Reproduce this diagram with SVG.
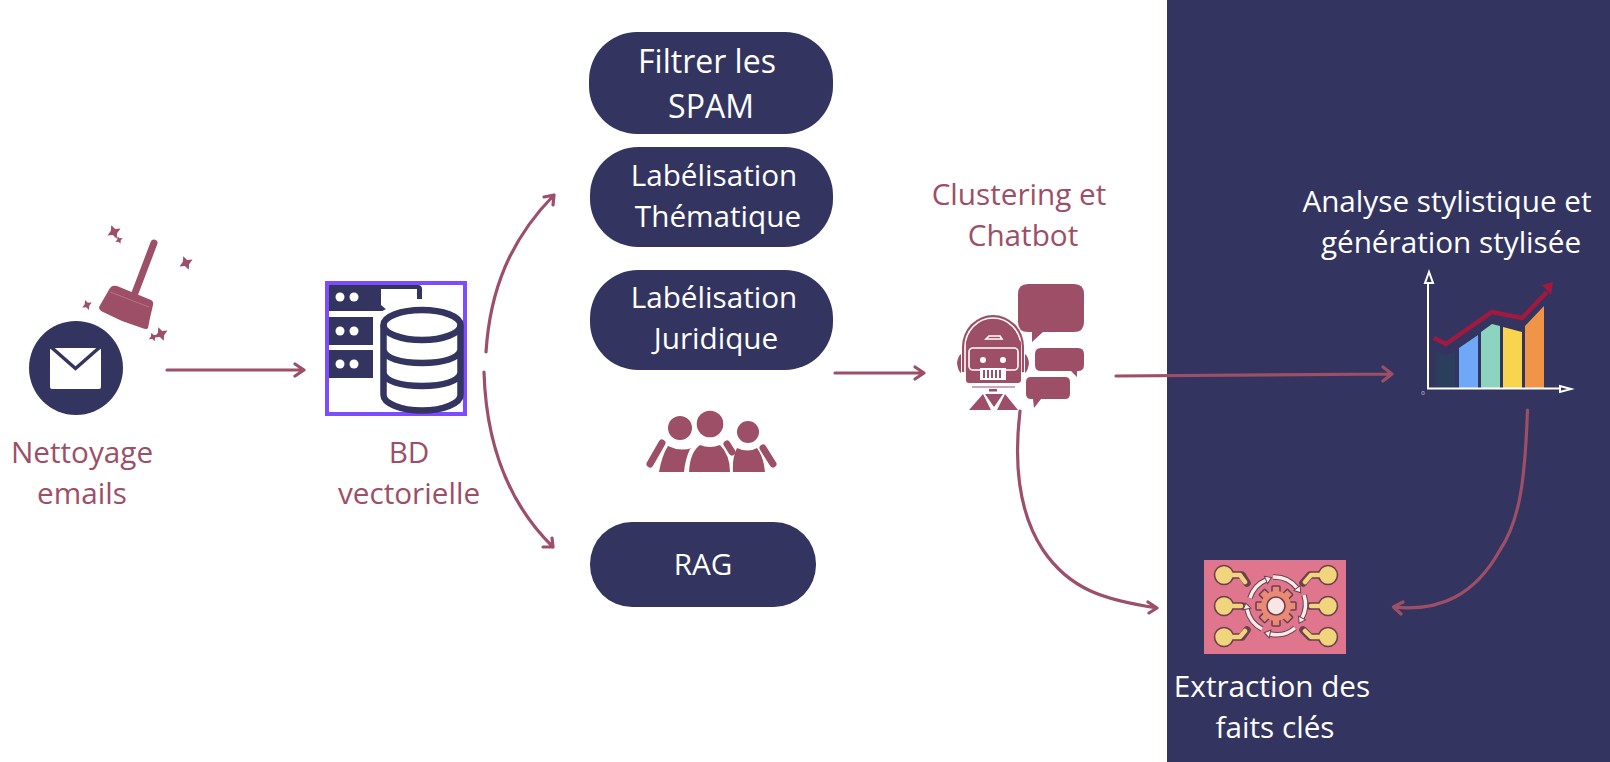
<svg xmlns="http://www.w3.org/2000/svg" width="1610" height="762" viewBox="0 0 1610 762">
<style>
text{font-family:"Open Sans","Liberation Sans",sans-serif;font-size:29.700px;font-weight:400;text-anchor:middle}
.big{font-size:32px}
.w{fill:#fff}.r{fill:#9c4f66}.n{fill:#333560}
.c{fill:none;stroke:#9c4f66;stroke-width:3.200;stroke-linecap:round;stroke-linejoin:round}
.db{fill:none;stroke:#333560;stroke-width:6.500}
.rl{fill:none;stroke:#fff;stroke-width:1.600}
.o{stroke:#6e3f4e;stroke-width:1.600}
.arcO{fill:none;stroke:#6e3f4e;stroke-width:5.500}
.arcW{fill:none;stroke:#f7ecea;stroke-width:3.500}
</style>
<defs>
<path id="spark" d="M-.9-1L0-.6L.9-1L.6 0L.9 1L0 .6L-.9 1L-.6 0Z"/>
<marker id="ah" markerUnits="userSpaceOnUse" markerWidth="12" markerHeight="12" refX="3" refY="6" orient="auto"><path d="M3 2L9 6L3 10Z" fill="#f7ecea" stroke="#6e3f4e" stroke-width="1"/></marker>
<rect id="tooth" x="-4" y="-20" width="8" height="8" fill="#e98a75" stroke="#6e3f4e" stroke-width="1.600" rx="1"/>
<filter id="soft" x="-5%" y="-5%" width="110%" height="110%"><feGaussianBlur stdDeviation=".45"/></filter>
</defs>
<rect id="panel" x="1167" y="0" width="443" height="762" class="n"/>

<g id="connectors">
<path class="c" d="M167 370H304M295 364L304 370L295 376"/>
<path class="c" d="M486 352C490 290 510 240 554 195M544 197L554 195L553 205"/>
<path class="c" d="M484 372C486 440 505 500 553 547M552 538L553 547L543 547"/>
<path class="c" d="M835 373H924M915 367L924 373L915 379"/>
<path class="c" d="M1116 376L1392 374M1383 367L1392 374L1383 381"/>
<path class="c" d="M1020 411C1013 470 1020 515 1043 550C1070 590 1105 600 1157 608M1148 602L1157 608L1149 613"/>
<path class="c" d="M1527.500 410C1525 480 1520 520 1500 550C1475 595 1440 612 1393.500 607M1403 602L1393.500 607L1401 614"/>
</g>

<g id="nettoyage">
<circle cx="76" cy="368" r="47" class="n"/>
<rect x="50" y="348" width="51" height="41" rx="2" class="w"/>
<path d="M51 347L75.500 368.500L100 347" fill="none" stroke="#333560" stroke-width="3.500"/>
<path d="M154 243L135 293" fill="none" stroke="#9c4f66" stroke-width="7" stroke-linecap="round"/>
<path class="r" d="M110 288Q112 285 117 286L151 300Q154 302 153 305L150 318L148 328Q147 330 142 328L122 321L103 312Q99 310 99 307Z"/>
<path d="M110 292L149 307" stroke="#c78a9b" stroke-width=".6" fill="none"/>
<use href="#spark" class="r" transform="translate(114 232) rotate(20) scale(5.500)"/>
<use href="#spark" class="r" transform="translate(119 240) rotate(20) scale(3)"/>
<use href="#spark" class="r" transform="translate(186 263) rotate(20) scale(5.500)"/>
<use href="#spark" class="r" transform="translate(87 305) rotate(20) scale(4)"/>
<use href="#spark" class="r" transform="translate(161 334) rotate(20) scale(5.500)"/>
<use href="#spark" class="r" transform="translate(153 337) rotate(20) scale(3.500)"/>
<text x="82" y="463" class="r">Nettoyage</text>
<text x="82" y="504" class="r">emails</text>
</g>

<g id="bd">
<rect x="327" y="283" width="138" height="131" fill="#fff" stroke="#7c4dff" stroke-width="4"/>
<path class="n" d="M329 285H418Q422 285 422 289V299H417V289H381V305L388 311H329Z"/>
<rect x="329" y="317" width="44" height="28" class="n"/>
<rect x="329" y="350" width="44" height="28" class="n"/>
<g class="w"><circle cx="340" cy="297" r="4.500"/><circle cx="354" cy="297" r="4.500"/><circle cx="340" cy="331" r="4.500"/><circle cx="354" cy="331" r="4.500"/><circle cx="340" cy="364" r="4.500"/><circle cx="354" cy="364" r="4.500"/></g>
<path d="M373 400V323Q375 305 422 303L463 316V412H373Z" fill="#fff"/>
<ellipse cx="422" cy="325" rx="38.500" ry="15" class="db"/>
<path class="db" d="M383.500 325V395C383.500 403 400 410.500 422 410.500S460.500 403 460.500 395V325M383.500 350C385 358 400 363 422 363S459 358 460.500 350M383.500 373C385 381 400 386 422 386S459 381 460.500 373"/>
<text x="409" y="463" class="r">BD</text>
<text x="409" y="504" class="r">vectorielle</text>
</g>

<g id="filtrer"><rect x="589" y="32" width="244" height="102" rx="48" class="n"/><text x="707" y="73" class="w big">Filtrer les</text><text x="711" y="118" class="w big">SPAM</text></g>
<g id="thematique"><rect x="590" y="147" width="243" height="100" rx="48" class="n"/><text x="714" y="186" class="w">Labélisation</text><text x="718" y="227" class="w">Thématique</text></g>
<g id="juridique"><rect x="590" y="270" width="243" height="100" rx="48" class="n"/><text x="714" y="308" class="w">Labélisation</text><text x="716" y="349" class="w">Juridique</text></g>
<g id="rag"><rect x="590" y="522" width="226" height="85" rx="42" class="n"/><text x="703" y="575" class="w">RAG</text></g>

<g id="personnes">
<circle cx="680" cy="428" r="12" class="r"/><circle cx="710" cy="424" r="13.300" class="r"/><circle cx="748" cy="432" r="11" class="r"/>
<path class="r" d="M659 472Q662 455 668 446Q680 452 692 448L690 449Q685 460 684 472Z"/>
<path class="r" d="M689 472Q690 452 700 445Q710 449 720 445Q730 455 730 472Z"/>
<path class="r" d="M733 472Q732 458 737 448Q748 453 757 448Q764 458 765 472Z"/>
<path d="M662 443L650 464M763 448L773 464M727 444L732 452" fill="none" stroke="#9c4f66" stroke-width="7" stroke-linecap="round"/>
</g>

<g id="chatbot">
<text x="1019" y="205" class="r">Clustering et</text>
<text x="1023" y="246" class="r">Chatbot</text>
<path class="r" d="M1028 284H1074Q1084 284 1084 294V322Q1084 332 1074 332H1043L1032 342V332H1028Q1018 332 1018 322V294Q1018 284 1028 284Z"/>
<path class="r" d="M1041 348H1078Q1084 348 1084 354V365Q1084 371 1078 371H1077V377L1071 371H1041Q1035 371 1035 365V354Q1035 348 1041 348Z"/>
<path class="r" d="M1031 377H1065Q1070 377 1070 382V394Q1070 399 1065 399H1041L1034 408L1033 399H1031Q1026 399 1026 394V382Q1026 377 1031 377Z"/>
<path d="M962 372V347A31 32 0 0 1 1024 347V372Z" class="r"/>
<path d="M965 372V347A28 29 0 0 1 1021 347V372" fill="none" stroke="#fff" stroke-width="1.600"/>
<rect x="966" y="340" width="55" height="43" rx="3" class="r"/>
<path d="M986 339L989 336H1000L1002 339Z" class="rl"/>
<rect x="969" y="348" width="49" height="22" rx="4" class="rl"/>
<circle cx="983" cy="360" r="3" class="w"/><circle cx="1003" cy="360" r="3" class="w"/>
<rect x="980" y="368" width="26" height="12" class="w"/>
<path d="M984 370V378M988 370V378M992 370V378M996 370V378M1000 370V378" stroke="#9c4f66" stroke-width="2" fill="none"/>
<path class="r" d="M961 354Q958 356 957 363Q958 371 961 373ZM1025 354Q1028 356 1029 363Q1028 371 1025 373Z"/>
<path d="M972 387H1015" stroke="#9c4f66" stroke-width="1"/>
<rect x="989" y="389" width="8" height="2.500" class="r"/>
<path class="r" d="M969 410L983 394L991 410ZM997 410L1005 394L1018 410ZM985 394H1003L994 407Z"/>
</g>

<g id="analyse">
<text x="1447" y="212" class="w">Analyse stylistique et</text>
<text x="1451" y="253" class="w">génération stylisée</text>
<path d="M1436 352L1445.500 355L1455 352V388H1436Z" fill="#2c3e5e"/>
<path d="M1459 348L1478 335V388H1459Z" fill="#6fa8f7"/>
<path d="M1481 332L1492 324L1500 326V388H1481Z" fill="#8dd4c0"/>
<path d="M1503 327L1522 332V388H1503Z" fill="#f9d44e"/>
<path d="M1525 326L1544 306V388H1525Z" fill="#f09447"/>
<path d="M1428 282V388.500H1560" fill="none" stroke="#fff" stroke-width="2"/>
<path d="M1429 272L1425 283H1433ZM1571 389L1560 386V392Z" fill="none" stroke="#fff" stroke-width="2"/>
<text x="1423" y="395" fill="#d8d8e0" style="font-size:6px">0</text>
<path d="M1434 338L1446 344L1492 312L1522 318L1547 292" fill="none" stroke="#a0193f" stroke-width="4.500"/>
<path d="M1553 282L1542 285L1551 295Z" fill="#a0193f"/>
</g>

<g id="extraction">
<rect x="1204" y="560" width="142" height="94" fill="#df768d"/>
<g filter="url(#soft)">
<g fill="none" stroke="#6e3f4e" stroke-width="7.500" stroke-linejoin="round" stroke-linecap="round"><path d="M1233 575H1242L1247 583M1224 606H1242M1233 637H1242L1247 630M1319 575H1310L1303 583M1328 606H1310M1319 637H1310L1303 630"/></g>
<g fill="#f0d57c" class="o"><circle cx="1224" cy="575" r="9.500"/><circle cx="1224" cy="606" r="9.500"/><circle cx="1224" cy="637" r="9.500"/><circle cx="1328" cy="575" r="9.500"/><circle cx="1328" cy="606" r="9.500"/><circle cx="1328" cy="637" r="9.500"/></g>
<path d="M1229 575H1240L1245 582M1229 606H1241M1229 637H1240L1245 631M1323 575H1311L1305 582M1323 606H1311M1323 637H1311L1305 631" fill="none" stroke="#f0d57c" stroke-width="4.500" stroke-linejoin="round" stroke-linecap="round"/>
<g transform="translate(1276 606)">
<use href="#tooth"/><use href="#tooth" transform="rotate(45)"/><use href="#tooth" transform="rotate(90)"/><use href="#tooth" transform="rotate(135)"/><use href="#tooth" transform="rotate(180)"/><use href="#tooth" transform="rotate(225)"/><use href="#tooth" transform="rotate(270)"/><use href="#tooth" transform="rotate(315)"/>
<circle r="15" fill="#e98a75"/>
<circle r="9" fill="#f7e6e4" class="o"/>
</g>
<g class="arcO"><path d="M1250 598A29 29 0 0 1 1266 580"/><path d="M1273 577A29 29 0 0 1 1297 588"/><path d="M1304 595A29 29 0 0 1 1302 618"/><path d="M1295 628A29 29 0 0 1 1270 634"/><path d="M1262 629A29 29 0 0 1 1247 609"/></g>
<g class="arcW"><path marker-end="url(#ah)" d="M1250 598A29 29 0 0 1 1266 580"/><path marker-end="url(#ah)" d="M1273 577A29 29 0 0 1 1297 588"/><path marker-end="url(#ah)" d="M1304 595A29 29 0 0 1 1302 618"/><path marker-end="url(#ah)" d="M1295 628A29 29 0 0 1 1270 634"/><path marker-end="url(#ah)" d="M1262 629A29 29 0 0 1 1247 609"/></g>
</g>
<text x="1272" y="697" class="w">Extraction des</text>
<text x="1275" y="738" class="w">faits clés</text>
</g>
</svg>
